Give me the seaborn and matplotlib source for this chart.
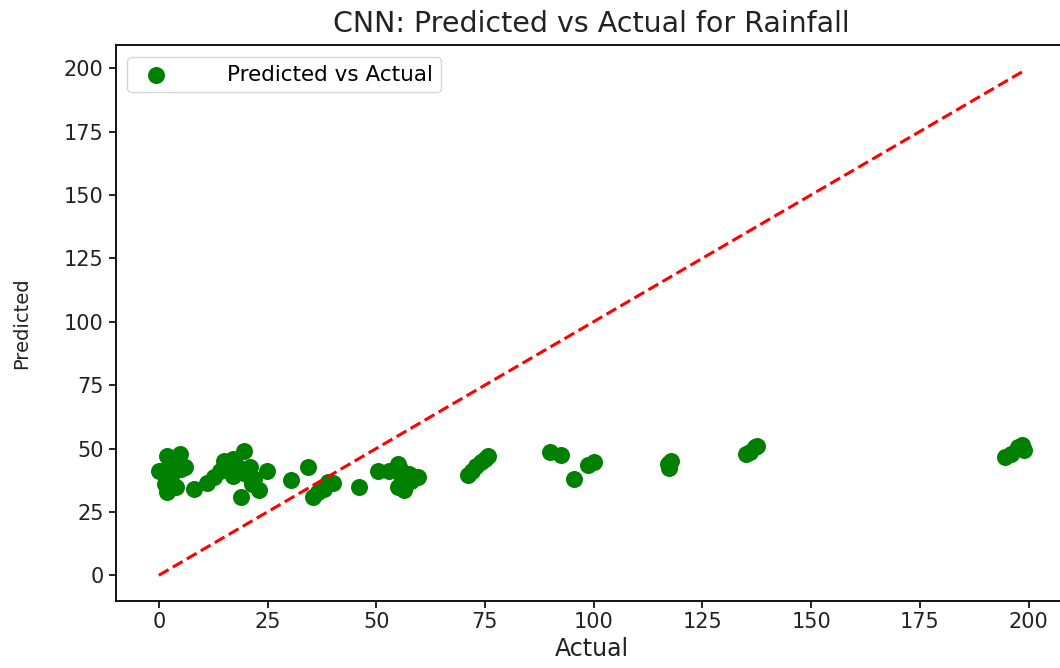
import matplotlib
matplotlib.use("Agg")
import matplotlib.pyplot as plt
import seaborn as sns
import pandas as pd

# Rainfall: observed vs CNN-predicted values
actual = [0, 0.7, 1.4, 1.8, 1.8, 2.5, 3.5, 4.8, 5, 6, 4, 3, 8,
          11, 12.6, 14, 15, 16, 17, 18, 19.5, 19, 20, 21, 21.5, 22, 23, 24.8, 17,
          30.5, 34.4, 35.5, 36.7, 38, 39, 40, 46,
          50.5, 53, 55, 55.5, 56, 56.4, 55, 57.5, 59.6, 58,
          71, 72, 73, 74, 75, 75.7,
          90, 92.4, 95.5, 98.6, 100,
          117, 117.4, 117.7,
          135, 136, 137, 137.6,
          194.5, 196, 197.5, 198.4, 199]
predicted = [41, 41, 36, 33, 47, 38, 44, 48, 42, 42.6, 35, 40, 34,
             36.5, 38.7, 41, 45, 44, 46, 43, 49, 31, 40, 42.6, 36, 38, 33.5, 41, 39,
             37.5, 42.6, 31, 33, 34, 36.7, 36.5, 34.7,
             41, 41, 44, 42, 38, 33.5, 35, 40, 38.7, 37,
             39.4, 41, 43, 44.5, 46, 47,
             48.5, 47.3, 38, 43.4, 44.6,
             44, 42.5, 45,
             48, 48.5, 50.5, 51,
             46.5, 48, 50.5, 51.3, 49.5]

df = pd.DataFrame({"Actual": actual, "Predicted": predicted})

fig = plt.figure(figsize=(10.6, 6.68), dpi=100)
ax = fig.add_axes([0.109, 0.101, 0.898, 0.831])

sns.scatterplot(data=df, x="Actual", y="Predicted", color="green", s=150,
                linewidth=0, label="Predicted vs Actual", ax=ax)

lo, hi = min(actual), max(actual)
ax.plot([lo, hi], [lo, hi], color="red", linestyle="--", linewidth=2.2)

ax.set_title("CNN: Predicted vs Actual for Rainfall", fontsize=20.5, pad=10,
             color="#222222")
ax.set_xlabel("Actual", fontsize=17, labelpad=3, color="#222222")
ax.set_ylabel("Predicted", fontsize=14, labelpad=24, color="#222222")
ax.tick_params(axis="both", labelsize=15, length=5, width=1.2,
               labelcolor="#222222")
for sp in ax.spines.values():
    sp.set_linewidth(1.3)

ax.legend(loc="upper left", fontsize=15.5, markerscale=1.0,
          handletextpad=2.3, borderpad=0.35, borderaxespad=0.55)

fig.savefig("out.png", dpi=100)
